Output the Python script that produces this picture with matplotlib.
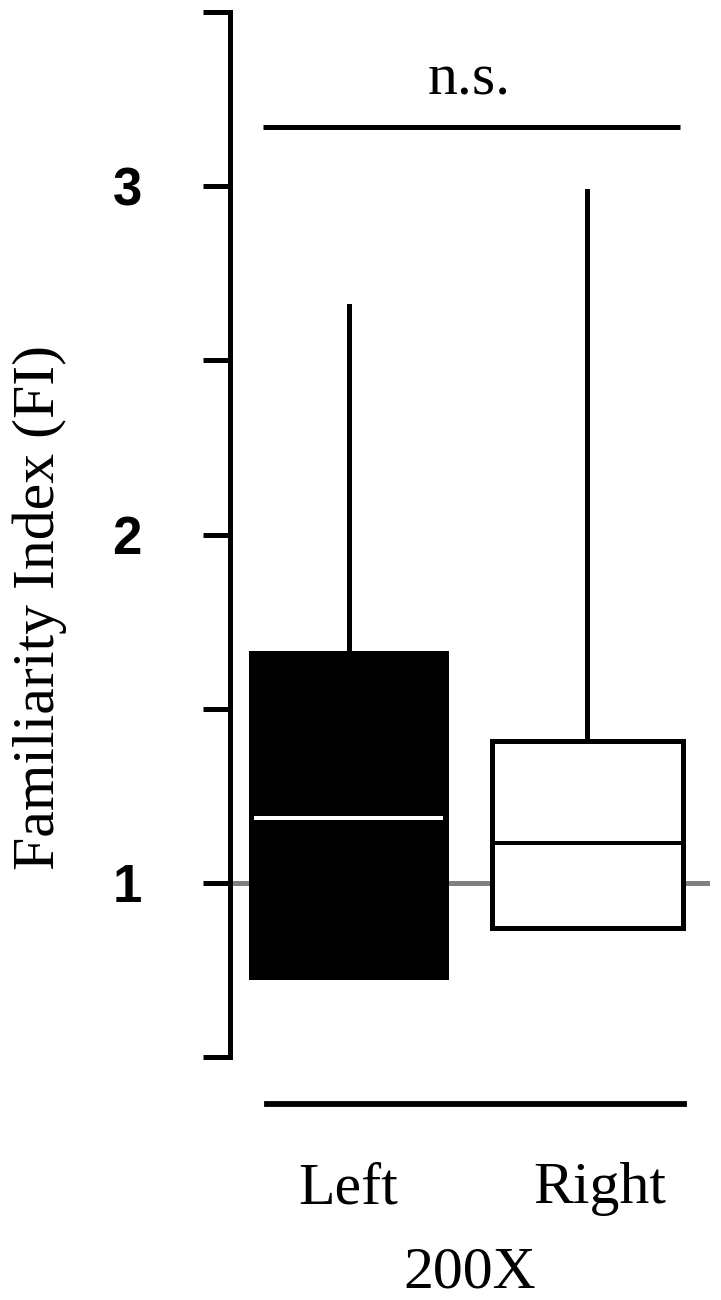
import matplotlib
matplotlib.use("Agg")
import matplotlib.pyplot as plt

# ---- data ----
groups = ["Left", "Right"]
q1 = [0.730, 0.871]
median = [1.187, 1.115]
q3 = [1.661, 1.408]
whisker_hi = [2.655, 2.985]
whisker_lo = [0.730, 0.871]
yticks = [0.5, 1.0, 1.5, 2.0, 2.5, 3.0, 3.5]
ytick_labels = ["", "1", "", "2", "", "3", ""]
xlabel = "200X"
ylabel = "Familiarity Index (FI)"
sig_text = "n.s."
reference_value = 1.0

SERIF = "Liberation Serif"
SANS = "Liberation Sans"

fig = plt.figure(figsize=(7.21, 13.0), dpi=100)
ax = fig.add_axes([230 / 721, (1300 - 1057) / 1300, 480 / 721, 1045 / 1300])

stats = []
for i, g in enumerate(groups):
    stats.append(dict(label=g, med=median[i], q1=q1[i], q3=q3[i],
                      whislo=whisker_lo[i], whishi=whisker_hi[i], fliers=[]))

lw = 3.6
res = ax.bxp(stats, positions=[1, 2], widths=[0.82, 0.80], patch_artist=True,
             showcaps=False, showfliers=False,
             boxprops=dict(linewidth=lw, edgecolor="black"),
             whiskerprops=dict(linewidth=lw, color="black"),
             medianprops=dict(linewidth=lw * 0.8, color="black"))
fills = ["black", "white"]
med_colors = ["white", "black"]
for b, f in zip(res["boxes"], fills):
    b.set_facecolor(f)
    b.set_zorder(2)
for m, c in zip(res["medians"], med_colors):
    m.set_color(c)
    m.set_zorder(3)
# keep white median inside the black box edge
xd = res["medians"][0].get_xdata()
res["medians"][0].set_xdata([xd[0] + 0.015, xd[1] - 0.015])

ax.axhline(reference_value, color="#808080", linewidth=lw, zorder=1)

ax.set_xlim(0.504, 2.513)
ax.set_ylim(0.5, 3.5)

# significance bar
ax.plot([0.642, 2.387], [3.170, 3.170], color="black", linewidth=lw,
        solid_capstyle="butt", clip_on=False)
ax.text(1.504, 3.264, sig_text, ha="center", va="baseline",
        fontsize=43, family=SERIF)

# spines
for s in ["top", "right"]:
    ax.spines[s].set_visible(False)
ax.spines["left"].set_linewidth(lw)
ax.spines["bottom"].set_linewidth(4.2)
ax.spines["bottom"].set_position(("outward", 47 * 0.72))
ax.spines["bottom"].set_bounds(0.659, 2.404)

ax.set_yticks(yticks)
ax.set_yticklabels(ytick_labels, fontsize=38, family=SANS, fontweight="bold")
ax.tick_params(axis="y", direction="out", length=19.4, width=lw, pad=44)

ax.set_xticks([1, 2.05])
ax.set_xticklabels(groups, fontsize=43, family=SERIF)
ax.tick_params(axis="x", length=0, pad=42)

ax.set_xlabel(xlabel, fontsize=43, family=SERIF, labelpad=22)
ax.set_ylabel(ylabel, fontsize=43, family=SERIF)
ax.yaxis.set_label_coords(-0.34, 0.43)

fig.savefig("out.png", dpi=100, facecolor="white")
